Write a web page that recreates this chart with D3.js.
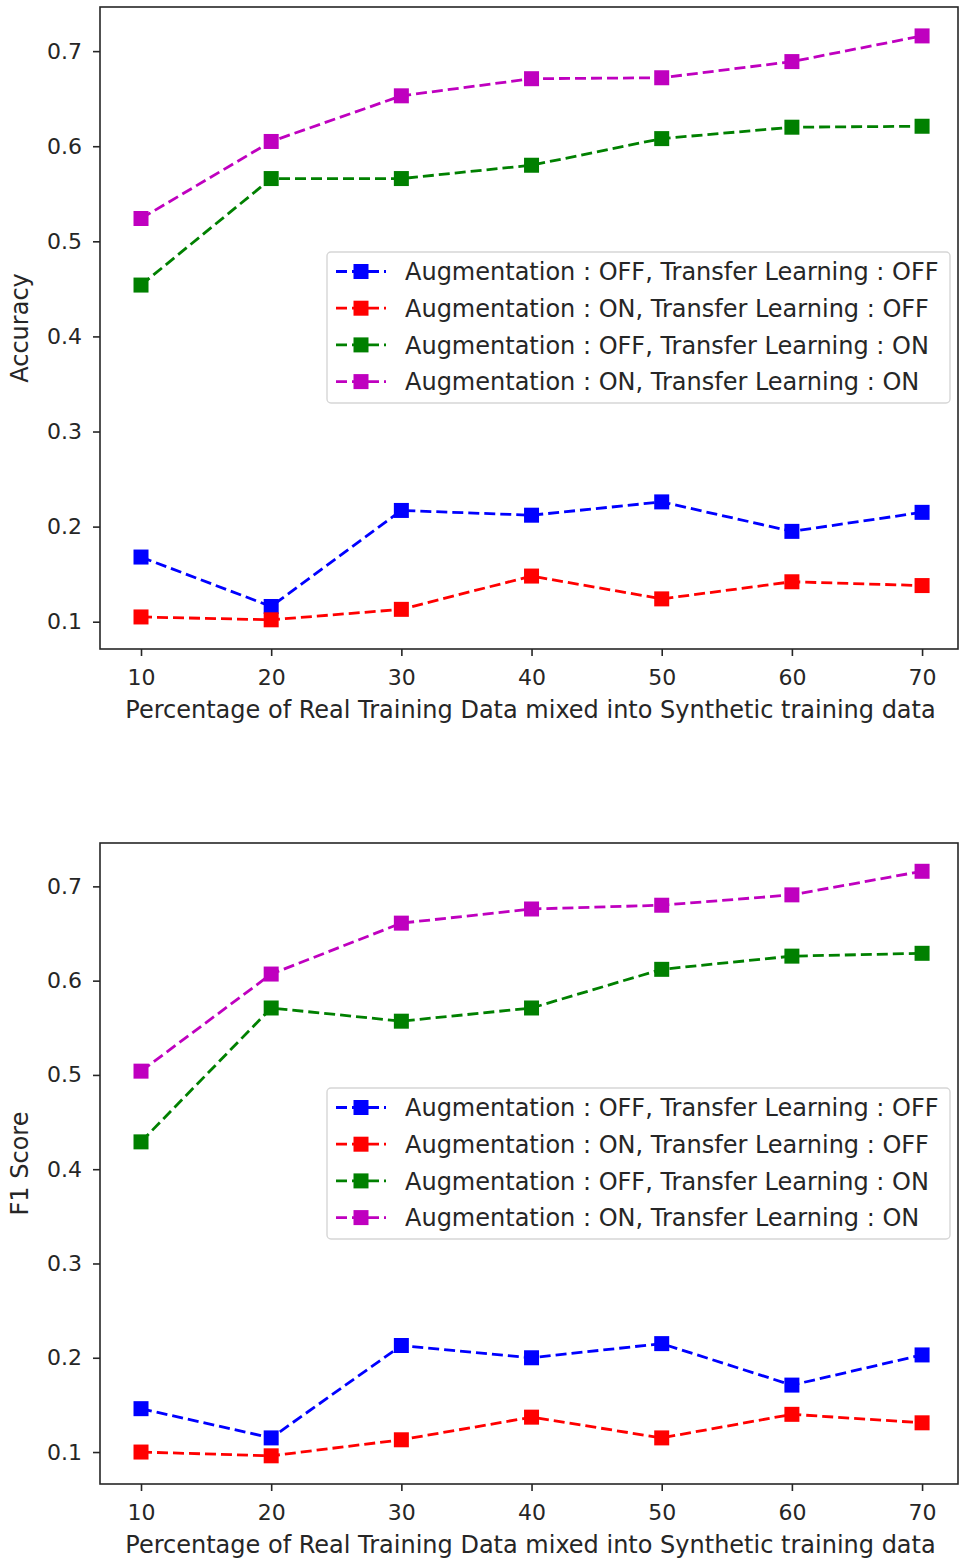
<!DOCTYPE html>
<html>
<head>
<meta charset="utf-8">
<script src="https://cdn.jsdelivr.net/npm/d3@7"></script>
<style>
  body { margin: 0; background: #fff; }
  svg { display: block; }
  text { font-family: "DejaVu Sans", sans-serif; fill: #262626; }
</style>
</head>
<body>
<svg id="chart" width="960" height="1562"></svg>
<script>
// x positions: percentage of real training data
var percentages = [10, 20, 30, 40, 50, 60, 70];

var seriesLabels = [
    'Augmentation : OFF, Transfer Learning : OFF',
    'Augmentation : ON, Transfer Learning : OFF',
    'Augmentation : OFF, Transfer Learning : ON',
    'Augmentation : ON, Transfer Learning : ON'
];
var seriesColors = ['#0000ff', '#ff0000', '#008000', '#bf00bf'];

// accuracy values, one array per series
var accAugOffTlOff = [0.168, 0.116, 0.217, 0.212, 0.226, 0.195, 0.215];
var accAugOnTlOff  = [0.105, 0.102, 0.113, 0.148, 0.124, 0.142, 0.138];
var accAugOffTlOn  = [0.454, 0.566, 0.566, 0.580, 0.608, 0.620, 0.621];
var accAugOnTlOn   = [0.524, 0.605, 0.653, 0.671, 0.672, 0.689, 0.716];

// f1 values
var f1AugOffTlOff = [0.146, 0.115, 0.213, 0.200, 0.215, 0.171, 0.203];
var f1AugOnTlOff  = [0.100, 0.096, 0.113, 0.137, 0.115, 0.140, 0.131];
var f1AugOffTlOn  = [0.429, 0.571, 0.557, 0.571, 0.612, 0.626, 0.629];
var f1AugOnTlOn   = [0.504, 0.607, 0.661, 0.676, 0.680, 0.691, 0.716];

var yTicks = [0.1, 0.2, 0.3, 0.4, 0.5, 0.6, 0.7];
var xTicks = [10, 20, 30, 40, 50, 60, 70];

var svg = d3.select('#chart');

function drawPanel(cfg) {
    var g = svg.append('g');

    var x = d3.scaleLinear().domain([6.85, 72.76]).range([cfg.left, cfg.right]);
    var y = d3.scaleLinear().domain(cfg.yDomain).range([cfg.bottom, cfg.top]);

    // axes
    var xAxis = d3.axisBottom(x).tickValues(xTicks).tickSize(7).tickPadding(13)
        .tickFormat(d3.format('d'));
    var yAxis = d3.axisLeft(y).tickValues(yTicks).tickSize(7).tickPadding(11)
        .tickFormat(d3.format('.1f'));

    var gx = g.append('g').attr('transform', 'translate(0,' + cfg.bottom + ')').call(xAxis);
    var gy = g.append('g').attr('transform', 'translate(' + cfg.left + ',0)').call(yAxis);
    [gx, gy].forEach(function (a) {
        a.select('.domain').remove();
        a.selectAll('.tick line').attr('stroke', '#262626').attr('stroke-width', 1.6);
        a.selectAll('.tick text').style('font-size', '22px').attr('fill', '#262626')
            .style('font-family', '"DejaVu Sans", sans-serif');
    });

    // frame
    g.append('rect')
        .attr('x', cfg.left).attr('y', cfg.top)
        .attr('width', cfg.right - cfg.left).attr('height', cfg.bottom - cfg.top)
        .attr('fill', 'none').attr('stroke', '#262626').attr('stroke-width', 1.6);

    var line = d3.line()
        .x(function (d, i) { return x(percentages[i]); })
        .y(function (d) { return y(d); });

    var ms = 15;
    cfg.series.forEach(function (vals, si) {
        g.append('path')
            .datum(vals)
            .attr('d', line)
            .attr('fill', 'none')
            .attr('stroke', seriesColors[si])
            .attr('stroke-width', 2.8)
            .attr('stroke-dasharray', '11,5');
        g.selectAll('.m' + si).data(vals).enter().append('rect')
            .attr('x', function (d, i) { return x(percentages[i]) - ms / 2; })
            .attr('y', function (d) { return y(d) - ms / 2; })
            .attr('width', ms).attr('height', ms)
            .attr('fill', seriesColors[si]);
    });

    // axis labels
    g.append('text')
        .attr('x', 530.5)
        .attr('y', cfg.bottom + 69)
        .attr('text-anchor', 'middle')
        .style('font-size', '24px')
        .text('Percentage of Real Training Data mixed into Synthetic training data');

    g.append('text')
        .attr('transform', 'translate(28,' + ((cfg.top + cfg.bottom) / 2) + ') rotate(-90)')
        .attr('text-anchor', 'middle')
        .style('font-size', '24px')
        .text(cfg.yLabel);

    // legend
    var lg = g.append('g').attr('transform', 'translate(327,' + cfg.legendTop + ')');
    lg.append('rect')
        .attr('x', 0).attr('y', 0).attr('width', 623).attr('height', 151)
        .attr('rx', 4).attr('fill', '#fff').attr('fill-opacity', 0.8)
        .attr('stroke', '#d6d6d6').attr('stroke-width', 1.4);
    seriesLabels.forEach(function (lbl, i) {
        var cy = 19.5 + i * 36.7;
        lg.append('line')
            .attr('x1', 9).attr('x2', 59).attr('y1', cy).attr('y2', cy)
            .attr('stroke', seriesColors[i]).attr('stroke-width', 2.8)
            .attr('stroke-dasharray', '11,5');
        lg.append('rect')
            .attr('x', 34 - ms / 2).attr('y', cy - ms / 2)
            .attr('width', ms).attr('height', ms)
            .attr('fill', seriesColors[i]);
        lg.append('text')
            .attr('x', 78).attr('y', cy)
            .attr('dy', '0.36em')
            .style('font-size', '24px')
            .text(lbl);
    });
}

drawPanel({
    left: 100, right: 958, top: 7, bottom: 649,
    yDomain: [0.0713, 0.7464],
    series: [accAugOffTlOff, accAugOnTlOff, accAugOffTlOn, accAugOnTlOn],
    yLabel: 'Accuracy',
    legendTop: 252
});

drawPanel({
    left: 100, right: 958, top: 843, bottom: 1484,
    yDomain: [0.0661, 0.746],
    series: [f1AugOffTlOff, f1AugOnTlOff, f1AugOffTlOn, f1AugOnTlOn],
    yLabel: 'F1 Score',
    legendTop: 1088
});
</script>
</body>
</html>
